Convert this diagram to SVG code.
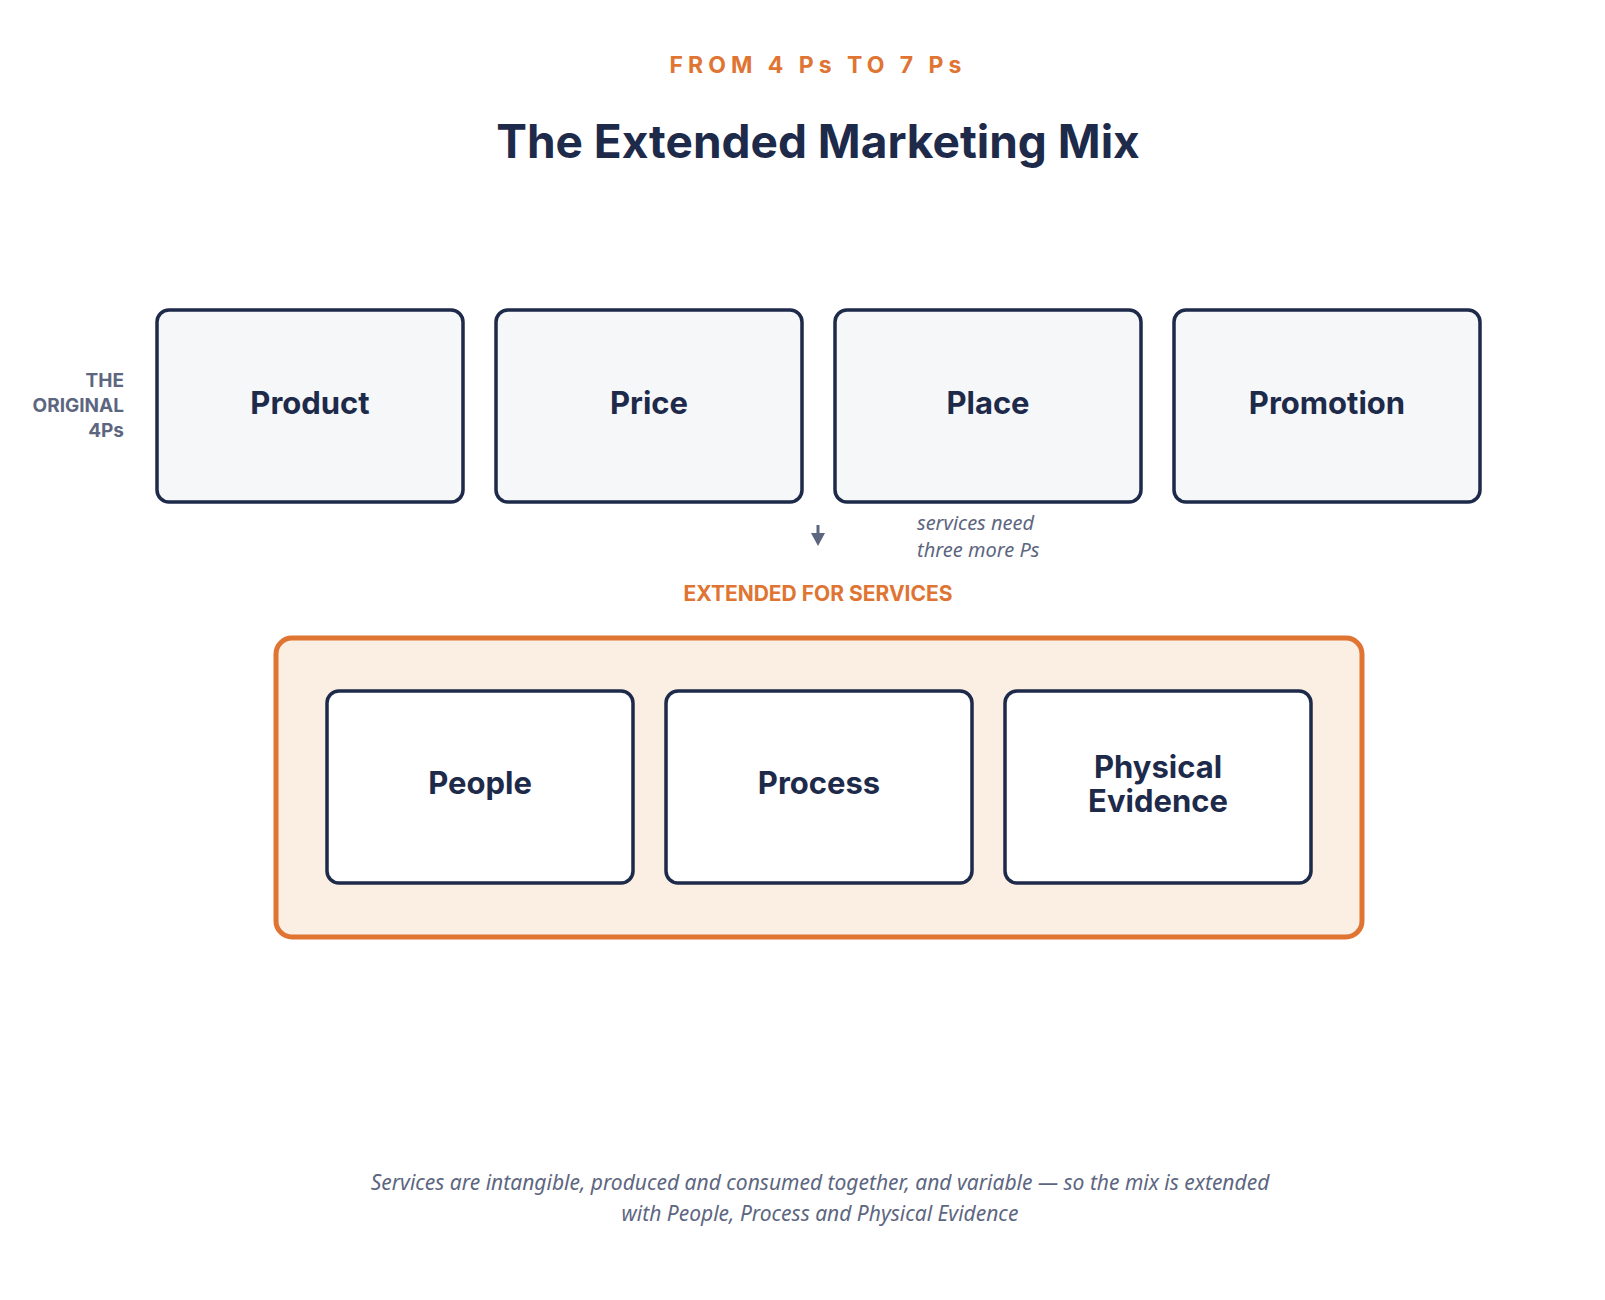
<svg xmlns="http://www.w3.org/2000/svg" width="1605" height="1300" viewBox="0 0 1605 1300">
<style>
.n rect{fill:#f5f7f9;stroke:#1e2a4a;stroke-width:3.5}
.e rect{fill:#ffffff;stroke:#1e2a4a;stroke-width:3.5}
.t{font-family:Inter,"Liberation Sans",sans-serif;font-weight:700;font-size:31px;fill:#1e2a4a;text-anchor:middle}
.it{font-family:"Noto Sans","Liberation Sans",sans-serif;font-style:italic;fill:#5d6680}
</style>
<rect width="1605" height="1300" fill="#fff"/>
<text x="818" y="73" text-anchor="middle" font-family="Inter,'Liberation Sans',sans-serif" font-weight="700" font-size="23" letter-spacing="5" fill="#e07432">FROM 4 Ps TO 7 Ps</text>
<text x="818" y="158" text-anchor="middle" font-family="Inter,'Liberation Sans',sans-serif" font-weight="700" font-size="46" fill="#1e2a4a">The Extended Marketing Mix</text>
<text text-anchor="end" font-family="Inter,'Liberation Sans',sans-serif" font-weight="700" font-size="19" fill="#5d6680"><tspan x="124" y="387">THE</tspan><tspan x="124" y="412">ORIGINAL</tspan><tspan x="124" y="437">4Ps</tspan></text>
<g id="product" class="n"><rect x="157" y="310" width="306" height="192" rx="12"/><text class="t" x="310" y="414">Product</text></g>
<g id="price" class="n"><rect x="496" y="310" width="306" height="192" rx="12"/><text class="t" x="649" y="414">Price</text></g>
<g id="place" class="n"><rect x="835" y="310" width="306" height="192" rx="12"/><text class="t" x="988" y="414">Place</text></g>
<g id="promotion" class="n"><rect x="1174" y="310" width="306" height="192" rx="12"/><text class="t" x="1327" y="414">Promotion</text></g>
<g id="connectors"><line x1="818" y1="525" x2="818" y2="535" stroke="#5d6680" stroke-width="3"/><polygon points="811,533 825,533 818,546" fill="#5d6680"/></g>
<text class="it" font-size="20"><tspan x="917" y="530">services need</tspan><tspan x="917" y="557">three more Ps</tspan></text>
<text x="818" y="601" text-anchor="middle" font-family="Inter,'Liberation Sans',sans-serif" font-weight="700" font-size="21" fill="#e07432">EXTENDED FOR SERVICES</text>
<g id="services"><rect x="276" y="638" width="1086" height="299" rx="16" fill="#fbeee3" stroke="#e07432" stroke-width="5"/></g>
<g id="people" class="e"><rect x="327" y="691" width="306" height="192" rx="12"/><text class="t" x="480" y="794">People</text></g>
<g id="process" class="e"><rect x="666" y="691" width="306" height="192" rx="12"/><text class="t" x="819" y="794">Process</text></g>
<g id="physical" class="e"><rect x="1005" y="691" width="306" height="192" rx="12"/><text class="t" x="1158" y="778">Physical</text><text class="t" x="1158" y="812">Evidence</text></g>
<text class="it" font-size="21" text-anchor="middle"><tspan x="820" y="1190">Services are intangible, produced and consumed together, and variable — so the mix is extended</tspan><tspan x="820" y="1221">with People, Process and Physical Evidence</tspan></text>
</svg>
